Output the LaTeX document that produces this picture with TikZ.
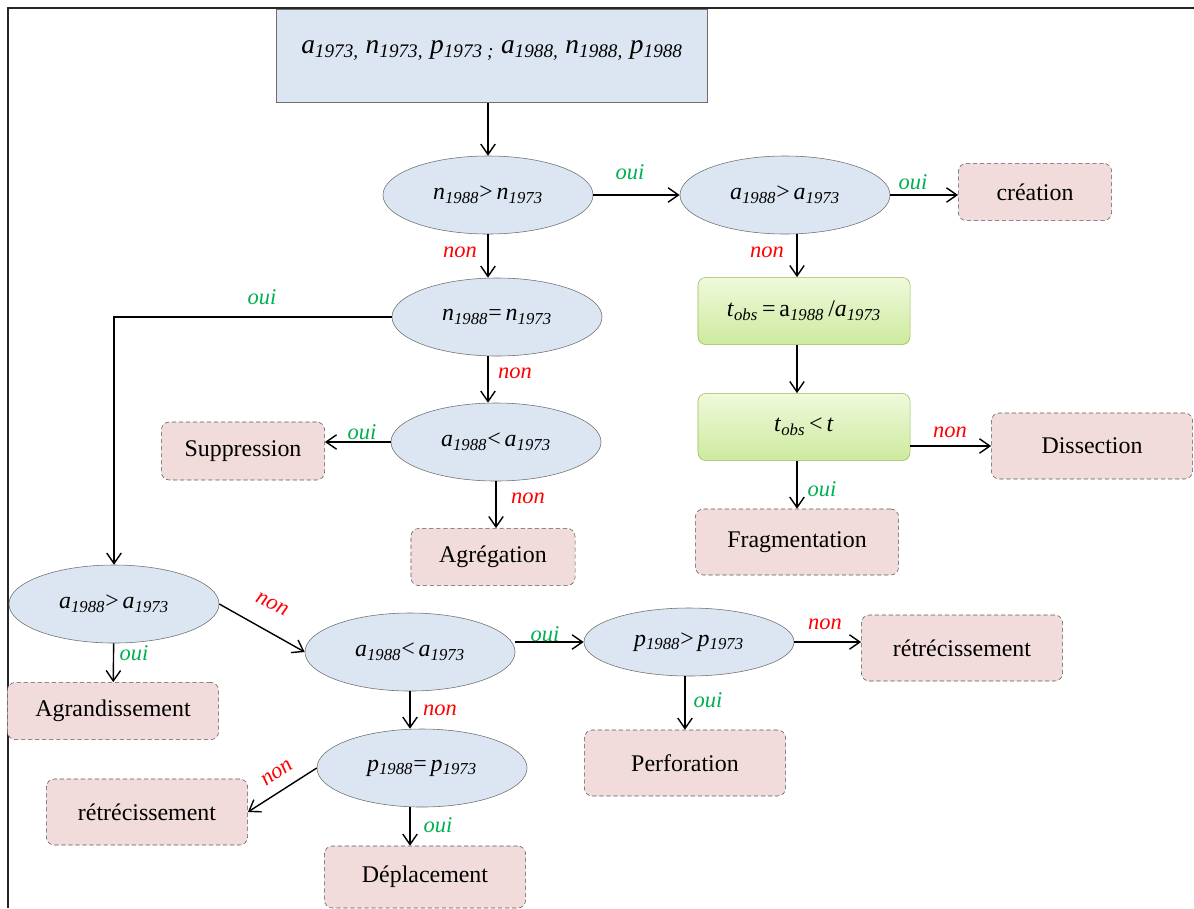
\documentclass[tikz,border=0pt]{standalone}
\usepackage{fontspec}
\setmainfont{Liberation Serif}
\usetikzlibrary{shapes.geometric,arrows.meta}
\definecolor{testblue}{HTML}{DCE6F2}
\definecolor{testline}{HTML}{6E6E6E}
\definecolor{respink}{HTML}{F2DCDB}
\definecolor{resline}{HTML}{595959}
\definecolor{calctop}{HTML}{F0F9DC}
\definecolor{calcbot}{HTML}{CDEA9E}
\definecolor{calcline}{HTML}{9BBB59}
\definecolor{ouigreen}{HTML}{00B050}
\definecolor{nonred}{HTML}{FF0000}
\newcommand{\vsub}[2]{\textit{#1}\textsubscript{\textit{#2}}}
\begin{document}
\begin{tikzpicture}[x=0.025cm,y=-0.025cm,
  test/.style={ellipse, draw=testline, fill=testblue, inner sep=0pt, minimum width=5.25cm, minimum height=1.95cm, font=\fontsize{17}{20}\selectfont},
  result/.style={draw=resline, dashed, dash pattern=on 3pt off 2pt, rounded corners=0.2cm, fill=respink, minimum width=5.03cm, minimum height=1.65cm, font=\fontsize{17}{20}\selectfont},
  calc/.style={draw=calcline, rounded corners=0.2cm, top color=calctop, bottom color=calcbot, minimum width=5.3cm, minimum height=1.68cm, font=\fontsize{17}{20}\selectfont},
  yes/.style={font=\fontsize{16}{19}\selectfont\itshape, text=ouigreen},
  no/.style={font=\fontsize{16}{19}\selectfont\itshape, text=nonred},
  link/.style={->, line width=1pt},
  >={Straight Barb[length=2.6mm,width=3.6mm]}]
\useasboundingbox (0,0) rectangle (1194,908);
\draw[line width=1.6pt, black!85] (1194,8) -- (8,8) -- (8,908);
\node[draw=testline, fill=testblue, minimum width=10.78cm, minimum height=2.33cm, font=\fontsize{19.5}{22}\selectfont] (top) at (492,56) {\raisebox{0.45cm}{\vsub{a}{1973,} \vsub{n}{1973,} \vsub{p}{1973 ;} \vsub{a}{1988,} \vsub{n}{1988,} \vsub{p}{1988}}};
\node[test] (e1) at (488,195) {\vsub{n}{1988}>\,\vsub{n}{1973}};
\node[test] (e2) at (785,195) {\vsub{a}{1988}>\,\vsub{a}{1973}};
\node[result, minimum width=3.83cm, minimum height=1.43cm] (cre) at (1035,192) {création};
\node[calc] (g1) at (804,311) {\vsub{t}{obs}\,=\,a\textsubscript{\textit{1988}}\,/\vsub{a}{1973}};
\node[calc] (g2) at (804,427) {\vsub{t}{obs}\,<\,\textit{t}};
\node[result] (dis) at (1092,446) {Dissection};
\node[result, minimum width=5.08cm] (frag) at (797,542) {Fragmentation};
\node[test] (e3) at (497,317) {\vsub{n}{1988}=\,\vsub{n}{1973}};
\node[test] (e4) at (496,442) {\vsub{a}{1988}<\,\vsub{a}{1973}};
\node[result, minimum width=4.08cm, minimum height=1.45cm] (supp) at (243,451) {Suppression};
\node[result, minimum width=4.1cm, minimum height=1.43cm] (agr) at (493,557) {Agrégation};
\node[test] (e5) at (114,604) {\vsub{a}{1988}>\,\vsub{a}{1973}};
\node[result, minimum width=5.28cm, minimum height=1.43cm] (agd) at (113,711) {Agrandissement};
\node[test] (e6) at (410,652) {\vsub{a}{1988}<\,\vsub{a}{1973}};
\node[test, minimum height=1.7cm] (e7) at (689,642) {\vsub{p}{1988}>\,\vsub{p}{1973}};
\node[result] (rr) at (962,648) {rétrécissement};
\node[result] (perf) at (685,763) {Perforation};
\node[test] (e8) at (422,768) {\vsub{p}{1988}=\,\vsub{p}{1973}};
\node[result] (rl) at (147,812) {rétrécissement};
\node[result, minimum height=1.55cm] (dep) at (425,877) {Déplacement};
\draw[link] (e1.north |- top.south) -- (e1.north);
\draw[link] (e1.east) -- (e2.west);
\draw[link] (e2.east) -- (e2.east -| cre.west);
\draw[link] (e2.south -| frag.north) -- (frag.north |- g1.north);
\draw[link] (g1.south -| frag.north) -- (frag.north |- g2.north);
\draw[link] (g2.east |- dis) -- (dis.west);
\draw[link] (g2.south -| frag.north) -- (frag.north);
\draw[link] (e1.south) -- (e1.south |- e3.north);
\draw[link] (e3.west) -| (e5.north);
\draw[link] (e3.south -| e1.south) -- (e1.south |- e4.north);
\draw[link] (e4.west) -- (e4.west -| supp.east);
\draw[link] (e4.south) -- (e4.south |- agr.north);
\draw[link] (e5) -- (agd);
\draw[link] (e5.east) -- (e6.west);
\draw[link] (e7.west -| e6.east) -- (e7.west);
\draw[link] (e7.east) -- (e7.east -| rr.west);
\draw[link] (e7.south -| perf.north) -- (perf.north);
\draw[link] (e6.south) -- (e6.south |- e8.north);
\draw[link] (e8.west) -- (rl.east);
\draw[link] (e8.south -| e6.south) -- (e6.south |- dep.north);
\node[yes] (l1) at (630,172) {oui};
\node[yes] (l2) at (913,182) {oui};
\node[no] (l3) at (767,252) {non};
\node[no] (l4) at (950,432) {non};
\node[yes] (l5) at (822,489) {oui};
\node[no] (l6) at (460,252) {non};
\node[yes] (l7) at (262,297) {oui};
\node[no] (l8) at (515,373) {non};
\node[yes] (l9) at (362,432) {oui};
\node[no] (l10) at (528,498) {non};
\node[yes] (l11) at (134,653) {oui};
\node[no, rotate=-26] (l12) at (272,604) {non};
\node[yes] (l13) at (545,634) {oui};
\node[no] (l14) at (825,624) {non};
\node[yes] (l15) at (708,700) {oui};
\node[no] (l16) at (440,710) {non};
\node[no, rotate=35] (l17) at (277,773) {non};
\node[yes] (l18) at (438,825) {oui};
\end{tikzpicture}
\end{document}
